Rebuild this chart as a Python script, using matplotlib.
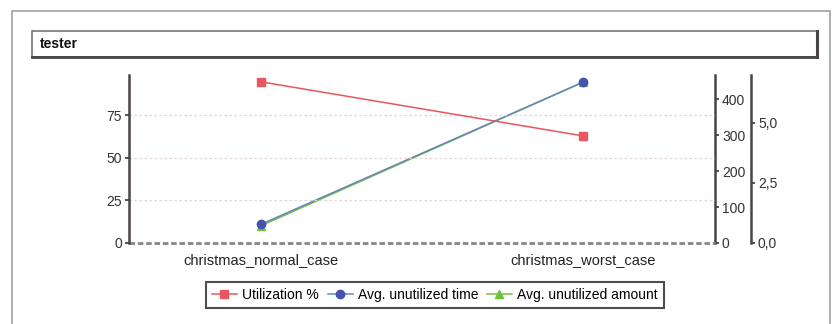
import matplotlib.pyplot as plt
from matplotlib.patches import Rectangle
from matplotlib.lines import Line2D

plt.rcParams['font.family'] = ['Liberation Sans', 'DejaVu Sans']

# data
cases = ['christmas_normal_case', 'christmas_worst_case']
utilization = [94.5, 62.8]          # left axis (%)
unused_time = [52, 447]             # first right axis
unused_amount = [0.72, 6.70]        # second right axis

W, H = 838, 324
fig = plt.figure(figsize=(W / 100, H / 100), dpi=100)

# outer frame and title box
fig.patches.append(Rectangle((12 / W, -0.05), (830 - 12) / W, (H - 11) / H + 0.05,
                             transform=fig.transFigure, fill=False,
                             edgecolor='#a0a0a0', lw=1.2))
fig.patches.append(Rectangle((32 / W, (H - 57) / H), (817 - 32) / W, 26 / H,
                             transform=fig.transFigure, fill=False,
                             edgecolor='#7a7474', lw=1.2))
fig.lines.append(Line2D([817 / W, 817 / W], [(H - 57) / H, (H - 31) / H],
                        transform=fig.transFigure, color='#4a4444', lw=2.2))
fig.lines.append(Line2D([32 / W, 817 / W], [(H - 57) / H, (H - 57) / H],
                        transform=fig.transFigure, color='#4a4444', lw=2))
fig.text(40 / W, (H - 44) / H, 'tester', fontsize=10, fontweight='bold',
         va='center', ha='left', color='#111111')

ax = fig.add_axes([129 / W, (H - 243) / H, (715 - 129) / W, (243 - 75) / H])
ax2 = ax.twinx()
ax3 = ax.twinx()

x = range(len(cases))
l1, = ax.plot(x, utilization, color='#e8575f', marker='s', markersize=5.5,
              lw=1.1, label='Utilization %')
l3, = ax3.plot(x, unused_amount, color='#6ec13c', marker='^', markersize=5.5,
               lw=1.1, label='Avg. unutilized amount')
l2, = ax2.plot(x, unused_time, color='#6a84bc', marker='o', markersize=6,
               lw=1.1, label='Avg. unutilized time', markerfacecolor='#4453b0',
               markeredgecolor='#4453b0')
ax2.set_zorder(ax3.get_zorder() + 1)
ax.set_zorder(ax2.get_zorder() + 1)
for a in (ax, ax2, ax3):
    a.patch.set_visible(False)

ax.set_xlim(-0.41, 1.41)
ax.set_ylim(0, 98.5)
ax2.set_ylim(0, 467)
ax3.set_ylim(0, 7.0)

ax.set_yticks([0, 25, 50, 75])
ax2.set_yticks([0, 100, 200, 300, 400])
ax3.set_yticks([0, 2.5, 5.0])
ax3.set_yticklabels(['0,0', '2,5', '5,0'])
ax.set_xticks(list(x))
ax.set_xticklabels(cases)

# grid lines
for v in [25, 50, 75]:
    ax.axhline(v, color='#e4d4d4', lw=0.9, ls=(0, (2, 2)), zorder=0)
ax.axhline(0, color='#8a8484', lw=2, ls=(0, (2, 1)), zorder=1, clip_on=False)

for a in (ax, ax2, ax3):
    for s in a.spines.values():
        s.set_visible(False)
    a.tick_params(colors='#333333', labelsize=10, length=3, width=1.2, pad=2)
ax.spines['left'].set_visible(True)
ax2.spines['right'].set_visible(True)
ax3.spines['right'].set_visible(True)
ax3.spines['right'].set_position(('axes', (751 - 129) / (715 - 129)))
for s in (ax.spines['left'], ax2.spines['right'], ax3.spines['right']):
    s.set_color('#4a4444')
    s.set_linewidth(1.8)
ax.tick_params(axis='x', length=0, pad=7, labelsize=10.5, labelcolor='#222222')

leg = fig.legend(handles=[l1, l2, l3], loc='center',
                 bbox_to_anchor=(435 / W, (H - 295) / H), ncol=3, frameon=True,
                 fancybox=False, fontsize=10, handlelength=1.8,
                 handletextpad=0.4, columnspacing=0.6, borderpad=0.4)
leg.get_frame().set_edgecolor('#222222')
leg.get_frame().set_linewidth(1.5)

fig.savefig('out.png', dpi=100)
